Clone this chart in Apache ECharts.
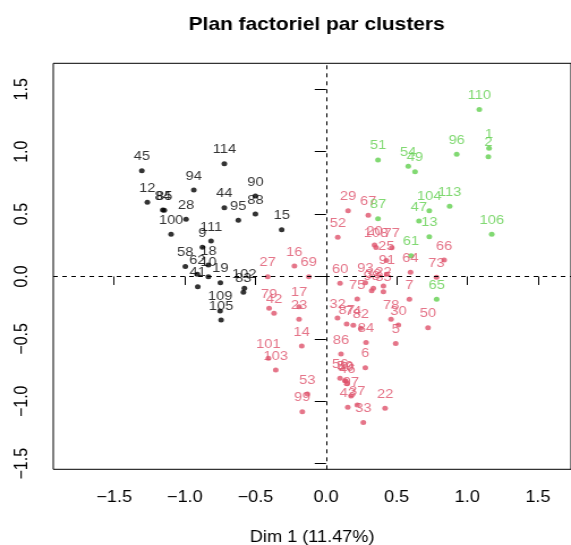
<!DOCTYPE html>
<html>
<head>
<meta charset="utf-8">
<script src="https://cdn.jsdelivr.net/npm/echarts@6/dist/echarts.min.js"></script>
<style>
html,body{margin:0;padding:0;background:#fff;overflow:hidden;}
#wrap{width:571px;height:545px;overflow:hidden;}
#chart{width:504px;height:545px;transform:scaleX(1.1329);transform-origin:0 0;}
</style>
</head>
<body>
<div id="wrap"><div id="chart"></div></div>
<script>
// ---- data ----
const title = 'Plan factoriel par clusters';
const xName = 'Dim 1 (11.47%)';
const xTicks = [-1.5, -1.0, -0.5, 0.0, 0.5, 1.0, 1.5];
const yTicks = [-1.5, -1.0, -0.5, 0.0, 0.5, 1.0, 1.5];

// cluster 1 (black)
const c1Labels = ['45','114','94','90','12','84','85','28','44','95','88','15','100','111','9','18','58','62','10','41','19','102','83','109','105'];
const c1X = [-1.304,-0.720,-0.936,-0.500,-1.265,-1.156,-1.145,-0.991,-0.720,-0.621,-0.500,-0.314,-1.097,-0.814,-0.875,-0.833,-0.996,-0.911,-0.833,-0.908,-0.748,-0.578,-0.585,-0.750,-0.743];
const c1Y = [0.848,0.904,0.693,0.645,0.595,0.533,0.530,0.458,0.551,0.450,0.501,0.375,0.338,0.284,0.234,0.092,0.079,0.018,-0.002,-0.082,-0.050,-0.095,-0.127,-0.276,-0.349];

// cluster 2 (red)
const c2Labels = ['27','16','69','79','42','17','23','14','101','103','53','99','29','67','52','20','108','77','25','91','66','64','73','60','93','98','38','22','35','7','75','32','87','74','82','84','78','30','50','5','86','6','56','59','40','46','43','97','22b','33','37'];
const c2X = [-0.413,-0.224,-0.122,-0.403,-0.368,-0.191,-0.191,-0.172,-0.408,-0.356,-0.132,-0.168,0.156,0.299,0.083,0.343,0.354,0.465,0.427,0.430,0.836,0.598,0.782,0.099,0.278,0.323,0.335,0.406,0.406,0.590,0.221,0.081,0.146,0.193,0.246,0.283,0.460,0.512,0.722,0.493,0.106,0.278,0.099,0.134,0.140,0.150,0.154,0.177,0.418,0.264,0.221];
const c2Y = [-0.002,0.084,-0.002,-0.255,-0.295,-0.242,-0.343,-0.557,-0.655,-0.749,-0.942,-1.083,0.527,0.490,0.314,0.252,0.232,0.231,0.127,0.018,0.132,0.034,-0.006,-0.054,-0.050,-0.114,-0.095,-0.076,-0.122,-0.183,-0.180,-0.333,-0.381,-0.391,-0.415,-0.530,-0.343,-0.389,-0.410,-0.538,-0.621,-0.731,-0.816,-0.835,-0.840,-0.860,-1.048,-0.958,-1.056,-1.171,-1.030];

// cluster 3 (green)
const c3Labels = ['110','1','2','96','51','54','49','104','113','47','13','106','61','65','87'];
const c3X = [1.085,1.154,1.149,0.925,0.368,0.582,0.630,0.731,0.875,0.658,0.731,1.173,0.602,0.783,0.368];
const c3Y = [1.337,1.027,0.960,0.979,0.934,0.883,0.840,0.527,0.562,0.445,0.319,0.338,0.167,-0.183,0.463];

// ---- chart ----
function pts(xs, ys, ls){ return xs.map((x,i)=>[x, ys[i], ls[i].replace(/b$/,'')]); }
const fmt = v => (Math.abs(v) < 1e-9 ? '0.0' : v.toFixed(1)).replace('-', '\u2212');
const FONT = '"Liberation Sans", Arial, Helvetica, sans-serif';

function series(data, color, extra){
  return Object.assign({
    type:'scatter', data:data, symbol:'circle', symbolSize:5,
    itemStyle:{color:color},
    label:{show:true, position:'top', distance:5, color:color, fontSize:13, fontFamily:FONT,
      formatter:p=>p.data[2]},
    labelLayout:{hideOverlap:false},
    silent:true, animation:false
  }, extra||{});
}

const chart = echarts.init(document.getElementById('chart'));
chart.setOption({
  animation:false,
  backgroundColor:'#fff',
  title:{text:title, left:274.5, top:10, textAlign:'center',
    textStyle:{fontSize:18.5, fontWeight:'bold', color:'#000', fontFamily:FONT}},
  grid:{left:47, right:0, top:63.3, bottom:545-469.3, containLabel:false, outerBoundsMode:'none',
    show:true, borderColor:'#000', borderWidth:1, backgroundColor:'transparent'},
  xAxis:{type:'value', min:-1.931, max:1.734, name:xName, nameLocation:'middle', nameGap:60,
    nameTextStyle:{fontSize:16, color:'#000', fontFamily:FONT},
    axisLine:{show:false}, splitLine:{show:false},
    axisTick:{show:true, inside:false, length:8.5, lineStyle:{color:'#000'}, customValues:xTicks},
    axisLabel:{show:true, margin:20, fontSize:16, color:'#000', fontFamily:FONT, customValues:xTicks, formatter:fmt}},
  yAxis:{type:'value', min:-1.545, max:1.708,
    axisLine:{show:false}, splitLine:{show:false},
    axisTick:{show:true, inside:false, length:10, lineStyle:{color:'#000'}, customValues:yTicks},
    axisLabel:{show:true, rotate:90, margin:19, fontSize:16, color:'#000', fontFamily:FONT, customValues:yTicks, formatter:fmt}},
  series:[
    series(pts(c1X,c1Y,c1Labels), '#000000', {
      markLine:{silent:true, symbol:'none', label:{show:false}, animation:false,
        lineStyle:{color:'#000', type:[4,4], width:1},
        data:[{xAxis:0},{yAxis:0}]}
    }),
    series(pts(c2X,c2Y,c2Labels), '#DF536B'),
    series(pts(c3X,c3Y,c3Labels), '#61D04F')
  ]
});
</script>
</body>
</html>
